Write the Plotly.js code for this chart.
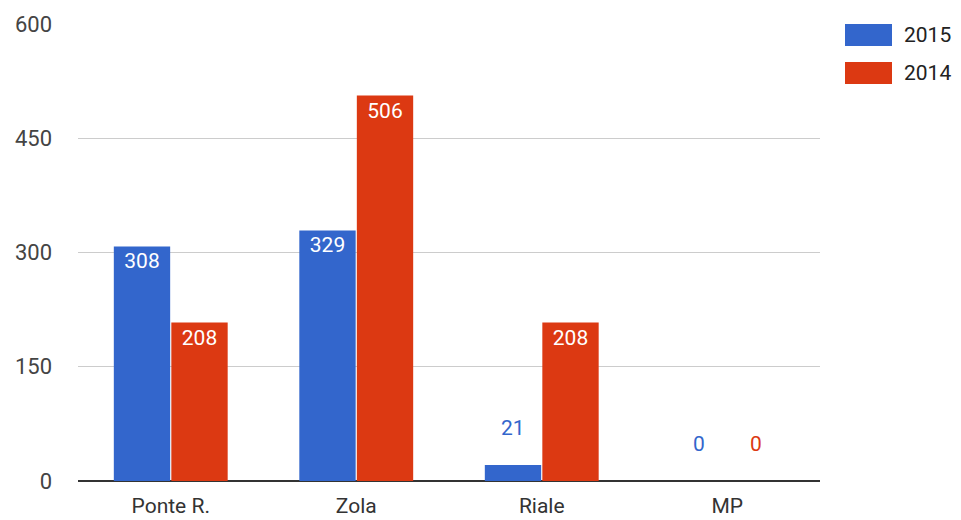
<!DOCTYPE html>
<html>
<head>
<meta charset="utf-8">
<script src="https://cdn.plot.ly/plotly-3.0.1.min.js"></script>
<style>html,body{margin:0;padding:0;background:#fff;}#chart{width:961px;height:520px;}</style>
</head>
<body>
<div id="chart"></div>
<script>
var categories = ["Ponte R.", "Zola", "Riale", "MP"];
var seriesNames = ["2015", "2014"];
var values2015 = [308, 329, 21, 0];
var values2014 = [208, 506, 208, 0];
var yTicks = [0, 150, 300, 450, 600];

var colors = ["#3366cc", "#dc3912"];
var allSeries = [values2015, values2014];
var insideThreshold = 60;
var font = "Roboto, Arial, sans-serif";

var traces = allSeries.map(function (vals, s) {
  return {
    type: "bar",
    name: seriesNames[s],
    x: categories,
    y: vals,
    marker: { color: colors[s] },
    text: vals.map(function (v) { return v >= insideThreshold ? String(v) : ""; }),
    textposition: vals.map(function (v) { return v >= insideThreshold ? "inside" : "none"; }),
    insidetextanchor: "end",
    textangle: 0,
    insidetextfont: { color: "#ffffff", size: 21, family: font },
    hoverinfo: "x+y",
    showlegend: false,
    cliponaxis: false
  };
});

var annotations = [];
var offsets = [-0.155, 0.157];
allSeries.forEach(function (vals, s) {
  vals.forEach(function (v, i) {
    if (v < insideThreshold) {
      annotations.push({
        x: i + offsets[s], y: v, xref: "x", yref: "y",
        text: String(v), showarrow: false,
        yanchor: "middle", yshift: 37,
        font: { color: colors[s], size: 21, family: font }
      });
    }
  });
});

var shapes = [];
seriesNames.forEach(function (name, s) {
  var top = 24 + s * 38;
  shapes.push({
    type: "rect", xref: "paper", yref: "paper",
    x0: (845 - 78) / 742, x1: (892 - 78) / 742,
    y0: 1 - (top + 22 - 24) / 457, y1: 1 - (top - 24) / 457,
    fillcolor: colors[s], line: { width: 0 }
  });
  annotations.push({
    xref: "paper", yref: "paper",
    x: (902 - 78) / 742, y: 1 - (top + 11 - 24) / 457,
    xanchor: "left", yanchor: "middle",
    text: name, showarrow: false,
    font: { color: "#222", size: 21, family: font }
  });
});

var layout = {
  width: 961, height: 520,
  margin: { l: 78, r: 141, t: 24, b: 39, pad: 0 },
  paper_bgcolor: "#fff", plot_bgcolor: "#fff",
  barmode: "group", bargap: 0.38, bargroupgap: 0.02,
  font: { family: font, size: 21, color: "#444" },
  xaxis: {
    type: "category", range: [-0.5, 3.5],
    showgrid: false, showline: false, zeroline: false,
    ticks: "", ticklabelstandoff: 10,
    tickfont: { size: 21, color: "#333", family: font }
  },
  yaxis: {
    range: [0, 600], tickvals: yTicks, ticktext: yTicks.map(String),
    showgrid: true, gridcolor: "#cccccc", gridwidth: 1,
    zeroline: true, zerolinecolor: "#333", zerolinewidth: 1.5,
    showline: false, ticks: "", ticklabelstandoff: 25,
    tickfont: { size: 22, color: "#444", family: font }
  },
  shapes: shapes,
  annotations: annotations,
  showlegend: false
};

Plotly.newPlot("chart", traces, layout, { displayModeBar: false, staticPlot: true });
</script>
</body>
</html>
